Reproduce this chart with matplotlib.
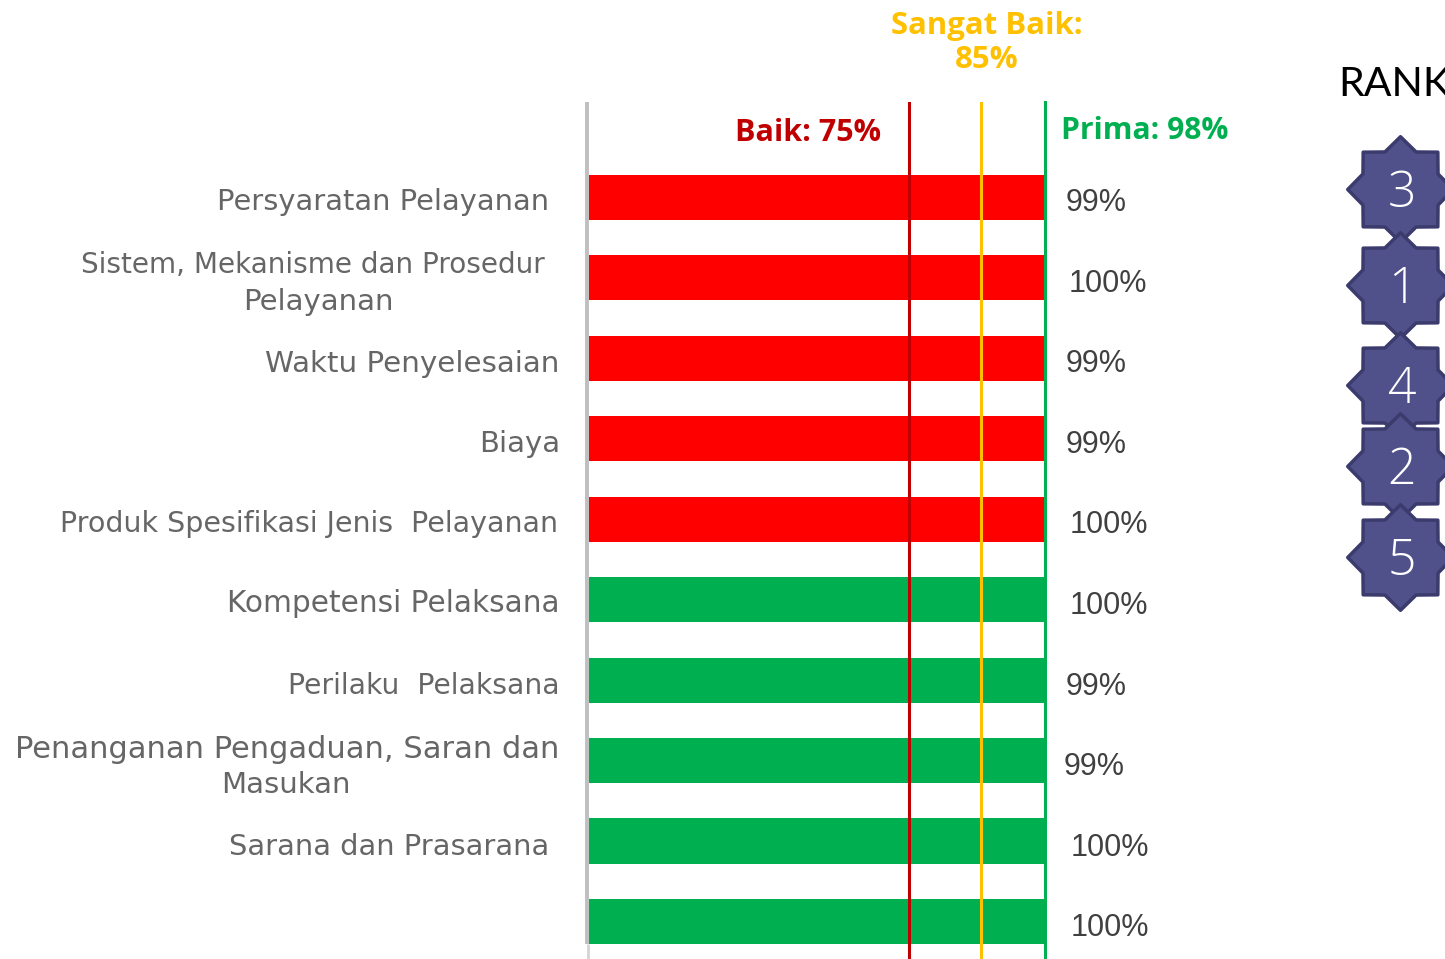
import matplotlib
matplotlib.use('Agg')
import matplotlib.pyplot as plt
from matplotlib.path import Path

labels = ['Persyaratan Pelayanan', 'Sistem, Mekanisme dan Prosedur\nPelayanan', 'Waktu Penyelesaian', 'Biaya',
          'Produk Spesifikasi Jenis  Pelayanan', 'Kompetensi Pelaksana', 'Perilaku  Pelaksana',
          'Penanganan Pengaduan, Saran dan\nMasukan', 'Sarana dan Prasarana', '']
value_labels = ['99%', '100%', '99%', '99%', '100%', '100%', '99%', '99%', '100%', '100%']
bar_len = [99.8, 99.8, 99.8, 99.8, 99.8, 100.2, 100.2, 100.2, 100.2, 100.2]
bar_colors = ['#FF0000'] * 5 + ['#00B050'] * 5
ranks = ['3', '1', '4', '2', '5']
rank_y = [189, 285, 385, 466, 557]

W, H = 1445, 959


def fx(x):
    return x / W


def fy(y):
    return 1 - y / H


fig = plt.figure(figsize=(W / 100, H / 100), dpi=100)
ax = fig.add_axes([fx(589), fy(959), (1045 - 589) / W, (959 - 102) / H])
ax.set_xlim(0, 100)
ax.set_ylim(9.467, -1.186)
ax.axis('off')

ax.barh(range(10), bar_len, height=0.56, color=bar_colors, zorder=2)

# garis batas: Baik, Sangat Baik, Prima
ax.axvline(70.15, color='#C00000', lw=2.2, zorder=3)
ax.axvline(85.95, color='#FFC000', lw=2.2, zorder=3)
ax.axvline(100.1, color='#00B050', lw=2.2, zorder=3, clip_on=False)

ax.plot([-0.45, -0.45], [-1.186, 9.28], color='#BFBFBF', lw=2.8, clip_on=False, zorder=1, solid_capstyle='butt')
ax.plot([-0.2, -0.2], [9.28, 9.467], color='#D4D4D4', lw=2, clip_on=False, zorder=1, solid_capstyle='butt')

font = 'DejaVu Sans'
head_font = 'Open Sans'
grey = '#666666'
lab_size = [20.8, 20.1, 21.2, 21, 20.5, 21.3, 20.3, 22, 20.8]
lab_x = [549, 545, 559, 560, 558, 560, 560, 559, 549]
lab_y = [202, 265, 364, 444, 524, 604, 686, 749, 847]
for i, (lab, x, y) in enumerate(zip(labels, lab_x, lab_y)):
    parts = lab.split('\n')
    fig.text(fx(x), fy(y), parts[0], ha='right', va='center', color=grey, family=font, fontsize=lab_size[i])
    if len(parts) > 1:
        cx = 318 if i == 1 else 286
        y2 = 302 if i == 1 else 785
        fig.text(fx(cx), fy(y2), parts[1], ha='center', va='center', color=grey, family=font, fontsize=21)

val_x = [1066, 1069, 1066, 1066, 1070, 1070, 1066, 1064, 1071, 1071]
val_y = [203, 284, 364, 445, 525, 606, 687, 767, 848, 928]
for v, x, y in zip(value_labels, val_x, val_y):
    fig.text(fx(x), fy(y), v, ha='left', va='center', color='#404040', family='Liberation Sans', fontsize=22)

fig.text(fx(987), fy(26), 'Sangat Baik:', ha='center', va='center', color='#FFC000', family=head_font, weight='bold', fontsize=22.4)
fig.text(fx(987), fy(60), '85%', ha='center', va='center', color='#FFC000', family=head_font, weight='bold', fontsize=22.4)
fig.text(fx(881), fy(133), 'Baik: 75%', ha='right', va='center', color='#C00000', family=head_font, weight='bold', fontsize=22)
fig.text(fx(1061), fy(131), 'Prima: 98%', ha='left', va='center', color='#00B050', family=head_font, weight='bold', fontsize=21.7)
fig.text(fx(1338), fy(85), 'RANK', ha='left', va='center', color='black', family='Lato', fontsize=29.5)

# bintang peringkat
star = Path.unit_regular_star(8, innerCircle=0.77)
ov = fig.add_axes([0, 0, 1, 1])
ov.set_xlim(0, W)
ov.set_ylim(H, 0)
ov.axis('off')
ov.patch.set_alpha(0)
ov.scatter([1400] * 5, rank_y, marker=star, s=76 ** 2, color='#50508A', edgecolors='#3B3B6D', linewidths=2.5, zorder=2)
for r, y in zip(ranks, rank_y):
    ov.text(1402, y + 5, r, ha='center', va='center', color='white', family=head_font, fontsize=36, weight='light', zorder=3)

fig.savefig('out.png', dpi=100)
